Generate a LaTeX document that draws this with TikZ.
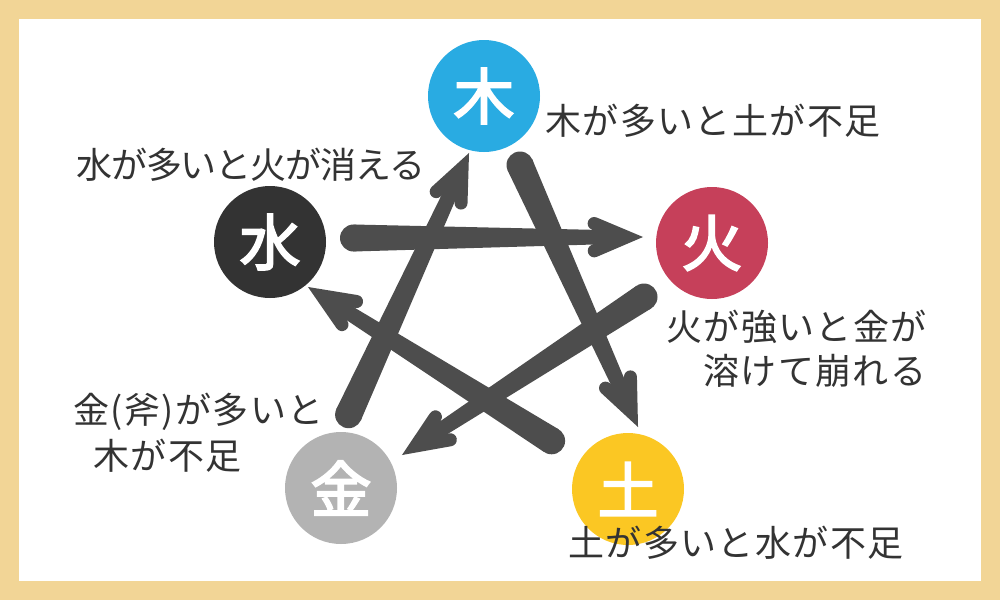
\documentclass[tikz,border=0pt]{standalone}
\usepackage{fontspec}
\usetikzlibrary{calc}
\newfontfamily\jp{Noto Sans CJK JP}
\newfontfamily\jpwide{Noto Sans CJK JP}[LetterSpace=4]
\newfontfamily\jpnarrow{Noto Sans CJK JP}[LetterSpace=-3]
\newfontfamily\jpmed{Noto Sans CJK JP}[FakeBold=3]
\definecolor{framecol}{HTML}{F2D596}
\definecolor{kiblue}{HTML}{29ABE2}
\definecolor{hired}{HTML}{C6405A}
\definecolor{tsuyel}{HTML}{FBC723}
\definecolor{kingray}{HTML}{B3B3B3}
\definecolor{mizudark}{HTML}{333333}
\definecolor{arrowgray}{HTML}{4D4D4D}
\definecolor{txt}{HTML}{333333}
\newcommand\gogyoarrow[2]{%
  \coordinate (V) at ($(#2)!16.6pt!(#1)$);
  \fill[arrowgray] ($(#1)!13.5pt!90:(#2)$) -- ($(V)!6.5pt!-90:(#1)$) -- ($(V)!6.5pt!90:(#1)$) -- ($(#1)!13.5pt!-90:(#2)$) -- cycle;
  \fill[arrowgray] (#1) circle (13.5pt);
  \draw[barb] ($(V)!35pt!23:(#1)$) -- (V) -- ($(V)!35pt!-23:(#1)$);
}
\begin{document}
\begin{tikzpicture}[x=1pt,y=-1pt,
  elem/.style={circle, minimum size=112pt, inner sep=0pt, text=white, font=\jpmed\fontsize{61}{61}\selectfont},
  lbl/.style={anchor=west, inner sep=0pt, text=txt, font=\jpwide\fontsize{36}{36}\selectfont},
  barb/.style={draw=arrowgray, line width=13pt, line cap=round, line join=miter}]
\useasboundingbox (0,0) rectangle (1000,600);
\fill[framecol] (0,0) rectangle (1000,600);
\fill[white] (19,19) rectangle (981,581);
% elements
\node[elem, fill=kiblue] (ki) at (484,96) {木};
\node[elem, fill=hired] (hi) at (712,243) {火};
\node[elem, fill=tsuyel] (tsuchi) at (628,489) {土};
\node[elem, fill=kingray] (kin) at (341,488) {金};
\node[elem, fill=mizudark] (mizu) at (270,242) {水};
% arrow ends
\coordinate (t1) at ($(mizu)+(83.5,-4)$);
\coordinate (p1) at ($(hi)+(-69,-6)$);
\coordinate (t2) at ($(ki)+(36,69)$);
\coordinate (p2) at ($(tsuchi)+(10,-62)$);
\coordinate (t3) at ($(hi)+(-68,54)$);
\coordinate (p3) at ($(kin)+(61,-33)$);
\coordinate (t4) at ($(tsuchi)+(-76.4,-48.2)$);
\coordinate (p4) at ($(mizu)+(38,45)$);
\coordinate (t5) at ($(kin)+(7.6,-73.3)$);
\coordinate (p5) at ($(ki)+(-15,57)$);
\gogyoarrow{t1}{p1}
\gogyoarrow{t2}{p2}
\gogyoarrow{t3}{p3}
\gogyoarrow{t4}{p4}
\gogyoarrow{t5}{p5}
% labels
\node[lbl] (l1) at (545,121) {木が多いと土が不足};
\node[lbl, font=\jpnarrow\fontsize{36}{36}\selectfont] (l2) at (76,165) {水が多いと火が消える};
\node[lbl] (l3) at (666,327) {火が強いと金が};
\node[lbl] (l4) at (703,371) {溶けて崩れる};
\node[lbl] (l5) at (568,543) {土が多いと水が不足};
\node[lbl] (l6) at (73,412) {金(斧)が多いと};
\node[lbl] (l7) at (93,456) {木が不足};
\end{tikzpicture}
\end{document}
